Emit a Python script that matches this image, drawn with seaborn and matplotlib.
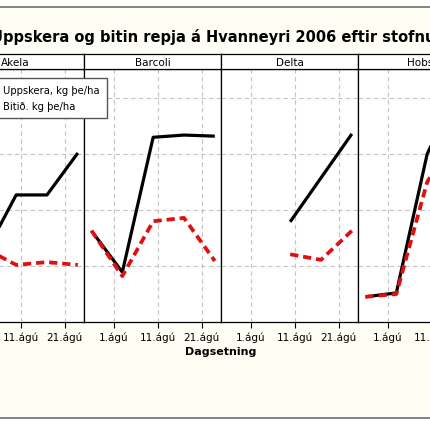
import numpy as np
import pandas as pd
import matplotlib
matplotlib.use("Agg")
import matplotlib.pyplot as plt
import matplotlib.dates as mdates
from matplotlib.patches import Rectangle
from matplotlib.lines import Line2D
import seaborn as sns

# gildi lesin af myndinni (kg þe/ha)
stofnar = ["Akela", "Barcoli", "Delta", "Hobson"]

akela_dagar = ["2006-08-03", "2006-08-10", "2006-08-17", "2006-08-24"]
akela_uppskera = [1230, 2270, 2270, 3020]
akela_bitid = [1310, 1020, 1070, 1020]

barcoli_dagar = ["2006-07-27", "2006-08-03", "2006-08-10", "2006-08-17", "2006-08-24"]
barcoli_uppskera = [1630, 890, 3300, 3340, 3320]
barcoli_bitid = [1630, 820, 1800, 1860, 1090]

delta_dagar_upp = ["2006-08-10", "2006-08-24"]
delta_uppskera = [1790, 3360]
delta_dagar = ["2006-08-10", "2006-08-17", "2006-08-24"]
delta_bitid = [1210, 1110, 1630]

hobson_dagar = ["2006-07-27", "2006-08-03", "2006-08-10", "2006-08-17"]
hobson_uppskera = [450, 520, 3000, 4200]
hobson_bitid = [450, 500, 2500, 3400]

xtick_dagar = ["2006-08-01", "2006-08-11", "2006-08-21"]
xtick_merki = ["1.ágú", "11.ágú", "21.ágú"]
ytick_gildi = [1000, 2000, 3000, 4000]

UPP = "Uppskera, kg þe/ha"
BIT = "Bitið. kg þe/ha"

rows = []
def add(stofn, dagar, gildi, breyta):
    for d, v in zip(dagar, gildi):
        rows.append({"stofn": stofn, "dags": pd.Timestamp(d), "kg": v, "breyta": breyta})

add("Akela", akela_dagar, akela_uppskera, UPP)
add("Akela", akela_dagar, akela_bitid, BIT)
add("Barcoli", barcoli_dagar, barcoli_uppskera, UPP)
add("Barcoli", barcoli_dagar, barcoli_bitid, BIT)
add("Delta", delta_dagar_upp, delta_uppskera, UPP)
add("Delta", delta_dagar, delta_bitid, BIT)
add("Hobson", hobson_dagar, hobson_uppskera, UPP)
add("Hobson", hobson_dagar, hobson_bitid, BIT)
df = pd.DataFrame(rows)

sns.set_style("white")
plt.rcParams["font.family"] = ["DejaVu Sans"]
plt.rcParams["text.color"] = "black"
plt.rcParams["xtick.color"] = "black"
plt.rcParams["xtick.labelcolor"] = "black"

PX = 431
fx = lambda p: p / PX
fy = lambda p: 1 - p / PX

fig = plt.figure(figsize=(4.31, 4.31), dpi=100, facecolor="white")
fig.add_artist(Rectangle((-0.1, fy(419)), 1.2, (419 - 7.5) / PX, transform=fig.transFigure,
                         facecolor="#fffef4", edgecolor="#6e6e6e", lw=1.2, zorder=-5))

aug1 = mdates.date2num(pd.Timestamp("2006-08-01"))
litir = {UPP: "black", BIT: "#e01010"}
dashes = {UPP: "", BIT: (2.2, 1.3)}

lefts = [-53, 84, 221, 358]
for stofn, l in zip(stofnar, lefts):
    ax = fig.add_axes([fx(l), fy(323), fx(137), (323 - 70) / PX])
    sub = df[df.stofn == stofn]
    for breyta, lw in [(UPP, 2.3), (BIT, 2.7)]:
        s = sub[sub.breyta == breyta]
        sns.lineplot(data=s, x="dags", y="kg", color=litir[breyta], lw=lw,
                     ax=ax, legend=False, solid_capstyle="butt")
        if dashes[breyta]:
            ax.lines[-1].set_dashes(dashes[breyta])
    ax.set_xlim(aug1 - 6.7, aug1 + 24.4)
    ax.set_ylim(0, 4520)
    ax.set_xticks(mdates.date2num(pd.to_datetime(xtick_dagar)))
    ax.set_xticklabels(xtick_merki)
    ax.set_yticks(ytick_gildi)
    ax.tick_params(axis="y", left=False, labelleft=False)
    ax.tick_params(axis="x", direction="out", length=4, width=0.8, color="black",
                   labelsize=7.5, labelcolor="black", pad=2.5, bottom=True)
    ax.grid(True, color="#c4c4c4", linestyle=(0, (4, 3)), lw=0.8)
    ax.set_xlabel("")
    ax.set_ylabel("")
    ax.set_facecolor("white")
    for sp in ax.spines.values():
        sp.set_color("black")
        sp.set_linewidth(0.9)

    sx = fig.add_axes([fx(l), fy(70), fx(137), 15 / PX])
    sx.set_xticks([])
    sx.set_yticks([])
    sx.set_facecolor("white")
    for sp in sx.spines.values():
        sp.set_color("black")
        sp.set_linewidth(0.9)
    sx.text(0.5, 0.45, stofn, ha="center", va="center", fontsize=7.5, transform=sx.transAxes)

fig.text(fx(221), fy(37), "Uppskera og bitin repja á Hvanneyri 2006 eftir stofnum",
         ha="center", va="center", fontsize=10.5, fontweight="bold")
fig.text(fx(221), fy(352), "Dagsetning", ha="center", va="center", fontsize=8, fontweight="bold")

handles = [Line2D([], [], color="black", lw=2.3),
           Line2D([], [], color="#e01010", lw=2.7, dashes=(2.2, 1.3))]
leg = fig.legend(handles, [UPP, BIT], loc="upper right", bbox_to_anchor=(fx(107), fy(79)),
                 frameon=True, fancybox=False, edgecolor="#555555", framealpha=1,
                 fontsize=7.2, borderaxespad=0, borderpad=0.75, labelspacing=0.5,
                 handlelength=3)
leg.get_frame().set_linewidth(1.0)

fig.savefig("out.png", dpi=100)
